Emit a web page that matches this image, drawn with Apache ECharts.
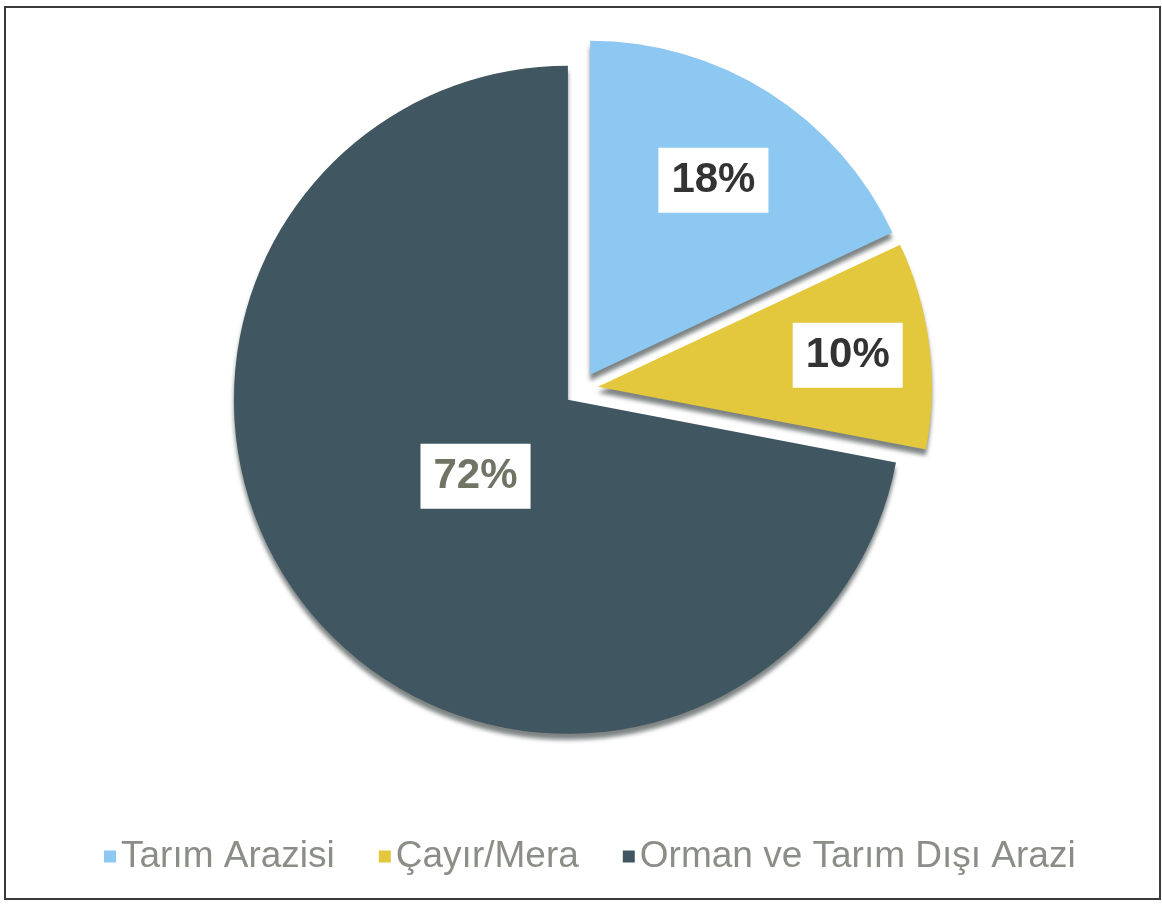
<!DOCTYPE html>
<html>
<head>
<meta charset="utf-8">
<script src="https://cdn.jsdelivr.net/npm/echarts@6/dist/echarts.min.js"></script>
<style>
	html, body {
		margin: 0;
		padding: 0;
		background: #ffffff;
	}
	.land-chart {
		width: 1162px;
		height: 906px;
	}
	.frame {
		position: absolute;
		left: 4px;
		top: 6px;
		width: 1153px;
		height: 890px;
		border: 2px solid #3a3a3a;
		pointer-events: none;
	}
</style>
</head>
<body>
<div class="land-chart" id="landChart"></div>
<div class="frame"></div>
<script>
const categories = ["Tarım Arazisi", "Çayır/Mera", "Orman ve Tarım Dışı Arazi"];
const values = [18, 10, 72];
const colors = ["#8cc8f2", "#e3c73c", "#405761"];
const labelColors = ["#333333", "#333333", "#6f7464"];
// how far out along the slice each label sits (fraction of radius)
const labelDepth = [0.68, 0.745, 0.35];

const radius = 334;
const total = values.reduce((a, b) => a + b, 0);

// mid angle of each slice, clockwise from 12 o'clock
let acc = 0;
const midAngles = values.map(v => {
	const a = (acc + v / 2) / total * Math.PI * 2;
	acc += v;
	return a;
});

const _chart = echarts.init(document.getElementById("landChart"));
_chart.setOption({
	color: colors,
	legend: {
		left: 99,
		top: 833,
		itemWidth: 12,
		itemHeight: 12,
		itemGap: 44,
		icon: "rect",
		textStyle: {
			color: "#8a8e86",
			fontSize: 37,
			fontFamily: "Liberation Sans, Arial, sans-serif"
		},
		data: categories
	},
	series: [
		{
			type: "pie",
			center: [581, 389],
			radius: radius,
			startAngle: 90,
			clockwise: true,
			selectedMode: "multiple",
			selectedOffset: 17,
			animation: false,
			itemStyle: {
				shadowColor: "rgba(20, 30, 30, 0.55)",
				shadowBlur: 4,
				shadowOffsetY: 6
			},
			emphasis: {
				scale: false
			},
			label: {
				show: true,
				position: "inside",
				formatter: "{d}%",
				fontSize: 42,
				fontWeight: "bold",
				fontFamily: "Liberation Sans, Arial, sans-serif",
				backgroundColor: "#ffffff",
				padding: [11, 13, 9, 13],
				lineHeight: 45
			},
			labelLayout: function (params) {
				const i = params.dataIndex;
				const shift = (labelDepth[i] - 0.5) * radius;
				return {
					dx: shift * Math.sin(midAngles[i]),
					dy: -shift * Math.cos(midAngles[i])
				};
			},
			data: categories.map((name, i) => ({
				name: name,
				value: values[i],
				selected: true,
				label: { color: labelColors[i] }
			}))
		}
	]
});
</script>
</body>
</html>
